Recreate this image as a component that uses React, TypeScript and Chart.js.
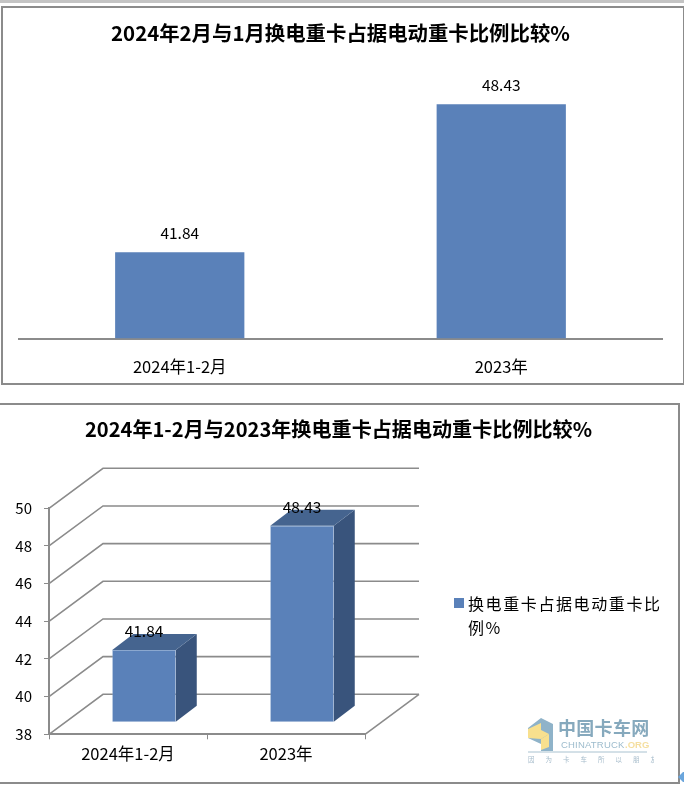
import React, { useEffect, useRef } from "react";
import { Chart, registerables } from "chart.js";

Chart.register(...registerables);

const categories = ["2024年1-2月", "2023年"];
const seriesValues = [41.84, 48.43];
const seriesLabel = "换电重卡占据电动重卡比例%";
const topTitle = "2024年2月与1月换电重卡占据电动重卡比例比较%";
const bottomTitle = "2024年1-2月与2023年换电重卡占据电动重卡比例比较%";
const axisMin = 38;
const axisMax = 50;
const axisStep = 2;

const FONT = '"Noto Sans CJK SC", "Noto Sans", sans-serif';
const BLUE = "#5a81b9";
const SIDE = "#39547c";
const TOP = "#45648f";
const GRAY = "#8b8b8b";

// depth of the 3D box: whole wall, front of the bar inside it, depth of the bar
const WALL = { dx: 54, dy: 40 };
const BAR_FRONT = { dx: 16, dy: 12 };
const BAR_DEPTH = { dx: 21, dy: 16 };

const flatLabels = {
  id: "flatLabels",
  afterDatasetsDraw(chart: any) {
    const { ctx } = chart;
    ctx.save();
    ctx.font = `15.5px ${FONT}`;
    ctx.fillStyle = "#000";
    ctx.textAlign = "center";
    ctx.textBaseline = "middle";
    chart.getDatasetMeta(0).data.forEach((el: any, i: number) => {
      ctx.fillText(seriesValues[i].toFixed(2), el.x, el.y - 19);
    });
    ctx.restore();
  },
};

const threeD = {
  id: "threeD",
  beforeDatasetsDraw(chart: any) {
    const { ctx, scales } = chart;
    const y = scales.y;
    const left = scales.x.left;
    const right = scales.x.right;
    ctx.save();
    ctx.strokeStyle = GRAY;
    ctx.lineWidth = 1.6;
    y.ticks.forEach((t: any) => {
      const py = y.getPixelForValue(t.value);
      ctx.beginPath();
      ctx.moveTo(left, py);
      ctx.lineTo(left + WALL.dx, py - WALL.dy);
      ctx.lineTo(right + WALL.dx, py - WALL.dy);
      ctx.stroke();
    });
    const base = y.getPixelForValue(axisMin);
    ctx.beginPath();
    ctx.moveTo(right, base);
    ctx.lineTo(right + WALL.dx, base - WALL.dy);
    ctx.stroke();
    ctx.lineWidth = 2;
    ctx.beginPath();
    ctx.moveTo(left, y.getPixelForValue(axisMax));
    ctx.lineTo(left, base);
    ctx.stroke();
    ctx.restore();
  },
  beforeDatasetDraw(chart: any) {
    const { ctx } = chart;
    ctx.save();
    ctx.translate(BAR_FRONT.dx, -BAR_FRONT.dy);
    chart.getDatasetMeta(0).data.forEach((el: any) => {
      const l = el.x - el.width / 2;
      const r = el.x + el.width / 2;
      ctx.fillStyle = SIDE;
      ctx.beginPath();
      ctx.moveTo(r, el.y);
      ctx.lineTo(r + BAR_DEPTH.dx, el.y - BAR_DEPTH.dy);
      ctx.lineTo(r + BAR_DEPTH.dx, el.base - BAR_DEPTH.dy);
      ctx.lineTo(r, el.base);
      ctx.closePath();
      ctx.fill();
      ctx.fillStyle = TOP;
      ctx.beginPath();
      ctx.moveTo(l, el.y);
      ctx.lineTo(l + BAR_DEPTH.dx, el.y - BAR_DEPTH.dy);
      ctx.lineTo(r + BAR_DEPTH.dx, el.y - BAR_DEPTH.dy);
      ctx.lineTo(r, el.y);
      ctx.closePath();
      ctx.fill();
    });
  },
  afterDatasetDraw(chart: any) {
    chart.ctx.restore();
  },
  afterDatasetsDraw(chart: any) {
    const { ctx } = chart;
    ctx.save();
    ctx.font = `15.5px ${FONT}`;
    ctx.fillStyle = "#000";
    ctx.textAlign = "center";
    ctx.textBaseline = "middle";
    chart.getDatasetMeta(0).data.forEach((el: any, i: number) => {
      ctx.fillText(seriesValues[i].toFixed(2), el.x + BAR_FRONT.dx, el.y - BAR_FRONT.dy - 18.5);
    });
    ctx.restore();
  },
};

function titleOptions(text: string, size: number, top: number, bottom: number) {
  return {
    display: true,
    text,
    color: "#000",
    font: { family: FONT, size, weight: "bold" as const, lineHeight: 24 / size },
    padding: { top, bottom },
  };
}

function Watermark() {
  const c = "#86a9bd";
  return (
    <svg width={130} height={52} style={{ position: "absolute", left: 524, top: 714 }}>
      <polygon points="4,14 17,4 29,10 29,37 17,37 17,30 4,24" fill="#8fb3c9" />
      <polygon points="4,15 17,9 17,16 25,20 17,25 4,24" fill="#f8e08e" />
      <polygon points="17,25 25,20 25,33 17,36" fill="#f8e08e" />
      <text x={34} y={21} fontFamily='"Noto Sans CJK SC"' fontWeight={700} fontSize={18} letterSpacing={0.3} fill={c}>
        中国卡车网
      </text>
      <text x={37} y={34} fontFamily="Liberation Sans" fontSize={9.5} letterSpacing={0.2} fill="#9dbccd">
        CHINATRUCK
      </text>
      <text x={101} y={34} fontFamily="Liberation Sans" fontWeight={700} fontSize={9.5} fill="#f5dfa0">
        .ORG
      </text>
      <line x1={4} y1={38} x2={123} y2={38} stroke="#a9c2d0" strokeWidth={1} />
      <text x={4} y={48} fontFamily='"Noto Sans CJK SC"' fontSize={6.5} letterSpacing={11} fill="#a6bccb">
        因为卡车所以朋友
      </text>
    </svg>
  );
}

export default function App() {
  const topRef = useRef<HTMLCanvasElement>(null);
  const botRef = useRef<HTMLCanvasElement>(null);

  useEffect(() => {
    const top = new Chart(topRef.current as HTMLCanvasElement, {
      type: "bar",
      plugins: [flatLabels],
      data: {
        labels: categories,
        datasets: [
          {
            label: seriesLabel,
            data: seriesValues,
            base: axisMin,
            backgroundColor: BLUE,
            categoryPercentage: 1,
            barPercentage: 0.402,
          },
        ],
      },
      options: {
        responsive: false,
        animation: false,
        layout: { autoPadding: false, padding: { left: 19, right: 20 } },
        plugins: {
          legend: { display: false },
          tooltip: { enabled: false },
          title: titleOptions(topTitle, 20.4, 21, 24),
        },
        scales: {
          y: { display: false, min: axisMin, max: axisMax },
          x: {
            afterFit(s: any) {
              s.height = 51.5;
            },
            grid: { display: false },
            border: { color: GRAY, width: 2 },
            ticks: { color: "#000", font: { family: FONT, size: 16.5 }, padding: 10, maxRotation: 0 },
          },
        },
      },
    } as any);

    const bot = new Chart(botRef.current as HTMLCanvasElement, {
      type: "bar",
      plugins: [threeD],
      data: {
        labels: categories,
        datasets: [
          {
            label: seriesLabel,
            data: seriesValues,
            base: axisMin,
            backgroundColor: BLUE,
            borderColor: "#7f9fcb",
            borderWidth: 0.6,
            categoryPercentage: 1,
            barPercentage: 0.402,
            clip: false,
          },
        ],
      },
      options: {
        responsive: false,
        animation: false,
        layout: { autoPadding: false, padding: 0 },
        plugins: {
          legend: { display: false },
          tooltip: { enabled: false },
          title: titleOptions(bottomTitle, 20.1, 22, 67.3),
        },
        scales: {
          y: {
            min: axisMin,
            max: axisMax,
            afterFit(s: any) {
              s.width = 49;
            },
            grid: { drawOnChartArea: false, drawTicks: true, tickLength: 5, color: GRAY },
            border: { color: GRAY, width: 2 },
            ticks: { stepSize: axisStep, color: "#000", font: { family: FONT, size: 15 }, padding: 12 },
          },
          // empty axis that keeps the room for the legend on the right of the plot
          spacer: {
            type: "linear",
            position: "right",
            afterFit(s: any) {
              s.width = 312;
            },
            grid: { display: false },
            border: { display: false },
            ticks: { display: false },
          },
          x: {
            afterFit(s: any) {
              s.height = 51.7;
            },
            grid: { drawOnChartArea: false, drawTicks: true, tickLength: 5, color: GRAY },
            border: { color: GRAY, width: 2 },
            ticks: { color: "#000", font: { family: FONT, size: 16.5 }, padding: 5, maxRotation: 0 },
          },
        },
      },
    } as any);

    return () => {
      top.destroy();
      bot.destroy();
    };
  }, []);

  return (
    <div style={{ position: "absolute", left: 0, top: 0, width: 684, height: 786, overflow: "hidden", background: "#fff" }}>
      <div style={{ position: "absolute", left: 0, top: 0, width: 684, height: 3, background: "#c4c4c4" }} />
      <canvas ref={topRef} width={682} height={390} style={{ position: "absolute", left: 0, top: 0 }} />
      <canvas ref={botRef} width={677} height={391} style={{ position: "absolute", left: 0, top: 395 }} />
      <div
        style={{
          position: "absolute",
          left: 1,
          top: 6,
          width: 680,
          height: 375,
          border: `2px solid ${GRAY}`,
          pointerEvents: "none",
        }}
      />
      <div
        style={{
          position: "absolute",
          left: -3,
          top: 402.5,
          width: 679,
          height: 377,
          border: `2px solid ${GRAY}`,
          pointerEvents: "none",
        }}
      />
      <div style={{ position: "absolute", left: 454, top: 598, width: 10, height: 10, background: BLUE }} />
      <div
        style={{
          position: "absolute",
          left: 468,
          top: 591,
          width: 200,
          fontFamily: FONT,
          fontSize: 16,
          lineHeight: "24px",
          letterSpacing: 1.6,
          color: "#000",
        }}
      >
        {seriesLabel}
      </div>
      <Watermark />
      <svg width={6} height={12} style={{ position: "absolute", left: 678, top: 771 }}>
        <polygon points="0,6 5,1 6,1 6,11 5,11" fill="#6aa5dc" />
      </svg>
    </div>
  );
}
